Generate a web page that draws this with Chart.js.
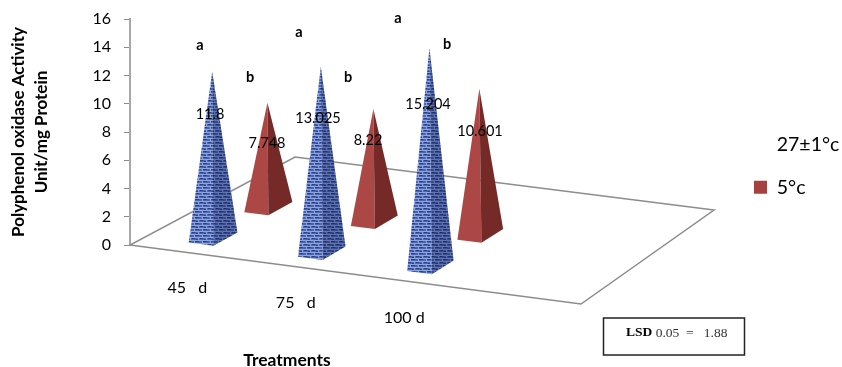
<!DOCTYPE html>
<html>
<head>
<meta charset="utf-8">
<title>Polyphenol oxidase activity</title>
<script src="https://cdn.jsdelivr.net/npm/chart.js@4"></script>
<style>
  html, body { margin: 0; padding: 0; background: #fff; }
  canvas { display: block; }
</style>
</head>
<body>
<canvas id="myChart" width="842" height="367"></canvas>
<script>
var categories = ['45   d', '75   d', '100 d', '']
var seriesNames = ['27±1°c', '5°c']
var warmValues = [11.8, 13.025, 15.204, null]
var coldValues = [7.748, 8.22, 10.601, null]
var warmLetters = ['a', 'a', 'a']
var coldLetters = ['b', 'b', 'b']
var lsdLabel = 'LSD'
var lsdValue = ' 0.05  =   1.88'

var labelFont = 'Lato, "Open Sans", sans-serif'
var red = '#a5413e'

// floor of the 3d plot, corners in canvas pixels
var floor = { a: [130, 245], b: [581, 304], c: [714, 210], d: [295, 157] }
// depth slot of each series on the floor
var seriesDepth = [1 / 6, 0.51]
// where the texts sit, the original has them placed by hand
var valueSpots = [[[210, 114], [318, 118], [428, 104]], [[267, 143], [368, 140], [480, 131]]]
var letterSpots = [[[200, 45], [299, 32], [398, 18]], [[250, 77], [348, 77], [447, 44]]]

function project(u, v) {
      var fx = floor.a[0] + (floor.b[0] - floor.a[0]) * u
      var fy = floor.a[1] + (floor.b[1] - floor.a[1]) * u
      var bx = floor.d[0] + (floor.c[0] - floor.d[0]) * u
      var by = floor.d[1] + (floor.c[1] - floor.d[1]) * u
      return [fx + (bx - fx) * v, fy + (by - fy) * v]
}

function brickPattern(ctx) {
      var c = document.createElement('canvas')
      c.width = 8
      c.height = 6
      var p = c.getContext('2d')
      p.fillStyle = '#4a64ad'
      p.fillRect(0, 0, 8, 6)
      p.fillStyle = '#8fa5e0'
      p.fillRect(0, 0, 8, 1)
      p.fillRect(0, 3, 8, 1)
      p.fillRect(2, 0, 1, 3)
      p.fillRect(6, 3, 1, 3)
      p.fillStyle = '#2c4088'
      p.fillRect(3, 1, 4, 1)
      p.fillRect(0, 4, 3, 1)
      p.fillRect(4, 5, 2, 1)
      return ctx.createPattern(c, 'repeat')
}

function face(ctx, p1, p2, p3, fill, shade) {
      ctx.beginPath()
      ctx.moveTo(p1[0], p1[1])
      ctx.lineTo(p2[0], p2[1])
      ctx.lineTo(p3[0], p3[1])
      ctx.closePath()
      ctx.fillStyle = fill
      ctx.fill()
      if (shade) {
            ctx.fillStyle = shade
            ctx.fill()
      }
}

// the slots take a little less of the floor than the category scale gives
function floorU(bar, area) {
      return (bar.x - area.left) / area.width * 0.975 + 0.003
}

var pyramidPlugin = {
      id: 'pyramids',
      beforeDatasetsDraw: function (chart) {
            var ctx = chart.ctx
            var area = chart.chartArea
            var y = chart.scales.y
            var zero = y.getPixelForValue(0)

            ctx.save()
            ctx.strokeStyle = '#8c8c8c'
            ctx.lineWidth = 1.5
            ctx.beginPath()
            ctx.moveTo(floor.a[0], floor.a[1])
            ctx.lineTo(floor.b[0], floor.b[1])
            ctx.lineTo(floor.c[0], floor.c[1])
            ctx.lineTo(floor.d[0], floor.d[1])
            ctx.closePath()
            ctx.stroke()

            var bricks = brickPattern(ctx)
            // back row first
            for (var s = 1; s >= 0; s--) {
                  chart.getDatasetMeta(s).data.forEach(function (bar, i) {
                        var value = chart.data.datasets[s].data[i]
                        if (value === null) return
                        var u = floorU(bar, area)
                        var du = bar.width / 2 / area.width
                        var v = seriesDepth[s]
                        var left = project(u - du, v - 0.075)
                        var front = project(u + du, v - 0.075)
                        var right = project(u + du, v + 0.075)
                        var centre = project(u, v)
                        var k = (1.02 - 0.12 * v) * (0.99 + 0.04 * u)
                        var apex = [centre[0] - 1, centre[1] - (zero - y.getPixelForValue(value)) * k]
                        if (s === 0) {
                              face(ctx, left, front, apex, bricks)
                              face(ctx, front, right, apex, bricks, 'rgba(15,25,80,0.35)')
                        } else {
                              face(ctx, left, front, apex, '#ab4744')
                              face(ctx, front, right, apex, '#752a28')
                        }
                  })
            }

            ctx.textAlign = 'center'
            ctx.textBaseline = 'middle'
            ctx.fillStyle = '#000'

            // values
            ctx.font = '14.5px ' + labelFont
            ;[warmValues, coldValues].forEach(function (values, s) {
                  valueSpots[s].forEach(function (spot, i) {
                        ctx.fillText(String(values[i]), spot[0], spot[1])
                  })
            })

            // letters
            ctx.font = 'bold 14.5px ' + labelFont
            ;[warmLetters, coldLetters].forEach(function (letters, s) {
                  letterSpots[s].forEach(function (spot, i) {
                        ctx.fillText(letters[i], spot[0], spot[1])
                  })
            })

            // category labels under the front edge
            ctx.font = '16px ' + labelFont
            chart.getDatasetMeta(0).data.forEach(function (bar, i) {
                  if (!categories[i]) return
                  var p = project(floorU(bar, area), 0)
                  ctx.fillText(categories[i], p[0] + 1 - i * 1.5, p[1] + 35 + i)
            })

            ctx.font = 'bold 17.5px ' + labelFont
            ctx.fillText('Treatments', 287, 360)

            // lsd box
            ctx.strokeStyle = '#222'
            ctx.lineWidth = 1.5
            ctx.strokeRect(603.5, 318, 141, 37)
            ctx.textAlign = 'left'
            ctx.font = 'bold 13.5px "Liberation Serif"'
            ctx.fillText(lsdLabel, 626, 333)
            var w = ctx.measureText(lsdLabel).width
            ctx.font = '13.5px "Liberation Serif"'
            ctx.fillStyle = '#333'
            ctx.fillText(lsdValue, 626 + w, 333)
            ctx.restore()
            return false
      },
      afterLayout: function (chart) {
            // legend sits lower than the plot centre
            var h = chart.legend.bottom - chart.legend.top
            var w = chart.legend.right - chart.legend.left
            chart.legend.left = 731
            chart.legend.right = 731 + w
            chart.legend.top = 166 - h / 2
            chart.legend.bottom = 166 + h / 2

            // pin the value axis to the reference span
            var y = chart.scales.y
            y.top = 19
            y.bottom = 245
            y.height = 226
            y.configure()
      }
}

var ctx = document.getElementById('myChart')
var myChart = new Chart(ctx, {
      type: 'bar',
      data: {
            labels: categories,
            datasets: [{
                  label: seriesNames[0],
                  data: warmValues,
                  backgroundColor: '#4f6ab3',
                  grouped: false,
                  categoryPercentage: 1,
                  barPercentage: 0.22
            },
            {
                  label: seriesNames[1],
                  data: coldValues,
                  backgroundColor: red,
                  grouped: false,
                  categoryPercentage: 1,
                  barPercentage: 0.22
            }]
      },
      options: {
            animation: false,
            responsive: false,
            layout: { padding: { left: 0, right: 0, top: 16, bottom: 122 } },
            scales: {
                  x: { display: false },
                  y: {
                        min: 0,
                        max: 16,
                        afterFit: function (scale) { scale.width = 130 },
                        ticks: {
                              stepSize: 2,
                              color: '#000',
                              padding: 13,
                              font: { family: labelFont, size: 16 }
                        },
                        grid: {
                              drawOnChartArea: false,
                              color: '#8c8c8c',
                              tickLength: 6
                        },
                        border: { color: '#a8a8a8', width: 2 },
                        title: {
                              display: true,
                              text: ['Polyphenol oxidase Activity', 'Unit/mg Protein'],
                              color: '#000',
                              padding: { top: 7, bottom: 0 },
                              font: { family: labelFont, size: 17, weight: 'bold', lineHeight: 1.35 }
                        }
                  }
            },
            plugins: {
                  tooltip: { enabled: false },
                  legend: {
                        position: 'right',
                        labels: {
                              color: '#000',
                              boxWidth: 13,
                              boxHeight: 13,
                              padding: 23,
                              font: { family: labelFont, size: 19.5 },
                              generateLabels: function (chart) {
                                    // the reference shows no swatch for the first series
                                    return chart.data.datasets.map(function (d, i) {
                                          return {
                                                text: d.label,
                                                datasetIndex: i,
                                                fillStyle: i === 0 ? 'rgba(0,0,0,0)' : d.backgroundColor,
                                                strokeStyle: 'rgba(0,0,0,0)',
                                                lineWidth: 0,
                                                fontColor: '#000'
                                          }
                                    })
                              }
                        }
                  }
            }
      },
      plugins: [pyramidPlugin]
})
</script>
</body>
</html>
